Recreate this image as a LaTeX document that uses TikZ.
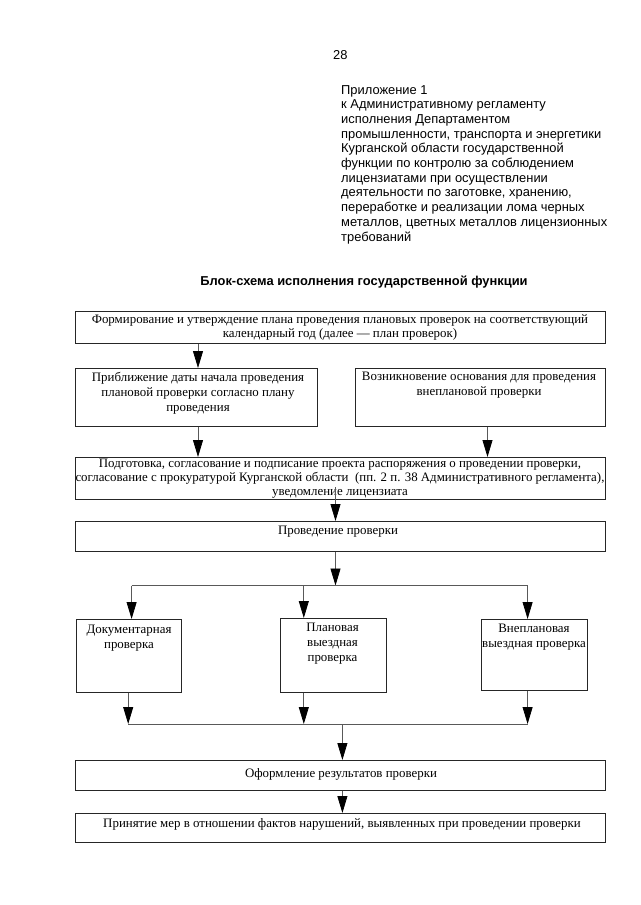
\documentclass[tikz,border=0pt]{standalone}
\usepackage{fontspec}
\setmainfont{Liberation Serif}
\newfontfamily\hdrfont{Liberation Sans}
\usetikzlibrary{arrows.meta}
\begin{document}
\begin{tikzpicture}[x=1pt,y=-1pt,
  box/.style={draw=black!85, line width=0.7pt, anchor=north west, inner sep=0pt},
  txt/.style={font=\fontsize{12.9}{15}\selectfont, align=center, inner sep=0pt},
  tight/.style={font=\fontsize{12.9}{14}\selectfont},
  arr/.style={draw=black!65, line width=0.8pt, -{Triangle[width=10pt,length=17pt,color=black]}},
  ln/.style={draw=black!65, line width=0.8pt}]
\useasboundingbox (0,0) rectangle (640,905);
\fill[white] (0,0) rectangle (640,905);

% header
\node[font=\hdrfont\fontsize{12.9}{14}\selectfont, anchor=west, inner sep=0pt] (page) at (333,55) {28};
\node[font=\hdrfont\fontsize{12.9}{14.7}\selectfont, anchor=north west, align=left, inner sep=0pt] (app) at (341,85)
 {Приложение 1\\к Административному регламенту\\исполнения Департаментом\\промышленности, транспорта и энергетики\\Курганской области государственной\\функции по контролю за соблюдением\\лицензиатами при осуществлении\\деятельности по заготовке, хранению,\\переработке и реализации лома черных\\металлов, цветных металлов лицензионных\\требований};
\node[font=\hdrfont\bfseries\fontsize{12.9}{14}\selectfont, inner sep=0pt] (title) at (364,282) {Блок-схема исполнения государственной функции};

% boxes
\node[box, minimum width=530pt, minimum height=32pt] (b1) at (75,311) {};
\node[txt, tight] (t1) at (340,327) {Формирование и утверждение плана проведения плановых проверок на соответствующий\\календарный год (далее — план проверок)};

\node[box, minimum width=242pt, minimum height=58pt] (b2) at (75,368) {};
\node[txt] (t2) at (198,393) {Приближение даты начала проведения\\плановой проверки согласно плану\\проведения};

\node[box, minimum width=250pt, minimum height=58pt] (b3) at (355,368) {};
\node[txt] (t3) at (479,385) {Возникновение основания для проведения\\внеплановой проверки};

\node[box, minimum width=530pt, minimum height=42pt] (b4) at (75,457) {};
\node[txt, tight] (t4) at (340,479) {Подготовка, согласование и подписание проекта распоряжения о проведении проверки,\\согласование с прокуратурой Курганской области~ (пп. 2 п. 38 Административного регламента),\\уведомление лицензиата};

\node[box, minimum width=530pt, minimum height=30pt] (b5) at (75,521) {};
\node[txt] (t5) at (338,532) {Проведение проверки};

\node[box, minimum width=105.5pt, minimum height=73pt] (b6) at (75.5,619) {};
\node[txt] (t6) at (129,638) {Документарная\\проверка};

\node[box, minimum width=105.5pt, minimum height=74pt] (b7) at (280,618) {};
\node[txt] (t7) at (332.5,644) {Плановая\\выездная\\проверка};

\node[box, minimum width=105.5pt, minimum height=71pt] (b8) at (481,619) {};
\node[txt] (t8) at (534,637) {Внеплановая\\выездная проверка};

\node[box, minimum width=530pt, minimum height=30pt] (b9) at (75,760) {};
\node[txt] (t9) at (341,774.5) {Оформление результатов проверки};

\node[box, minimum width=530pt, minimum height=29pt] (b10) at (75,813) {};
\node[txt] (t10) at (342,824.5) {Принятие мер в отношении фактов нарушений, выявленных при проведении проверки};

% helper coordinates
\coordinate (xl) at (198,0);
\coordinate (xr) at (487.5,0);
\coordinate (s4) at (335.5,487);
\coordinate (ja) at (335.5,585.5);
\coordinate (ja1) at (131.6,585.5);
\coordinate (ja2) at (303.8,585.5);
\coordinate (ja3) at (527.6,585.5);
\coordinate (jb1) at (128.2,724);
\coordinate (jb2) at (303.8,724);
\coordinate (jb3) at (527.6,724);
\coordinate (jb) at (342.4,724);

% connectors
\draw[arr] (b1.south -| xl) -- (b2.north -| xl);
\draw[arr] (b2.south -| xl) -- (b4.north -| xl);
\draw[arr] (b3.south -| xr) -- (b4.north -| xr);
\draw[arr] (s4) -- (b5.north -| s4);
\draw[arr] (b5.south -| ja) -- (ja);
\draw[ln] (ja1) -- (ja3);
\draw[arr] (ja1) -- (b6.north -| ja1);
\draw[arr] (ja2) -- (b7.north -| ja2);
\draw[arr] (ja3) -- (b8.north -| ja3);
\draw[arr] (b6.south -| jb1) -- (jb1);
\draw[arr] (b7.south -| jb2) -- (jb2);
\draw[arr] (b8.south -| jb3) -- (jb3);
\draw[ln] (jb1) -- (jb3);
\draw[arr] (jb) -- (b9.north -| jb);
\draw[arr] (b9.south -| jb) -- (b10.north -| jb);
\end{tikzpicture}
\end{document}
